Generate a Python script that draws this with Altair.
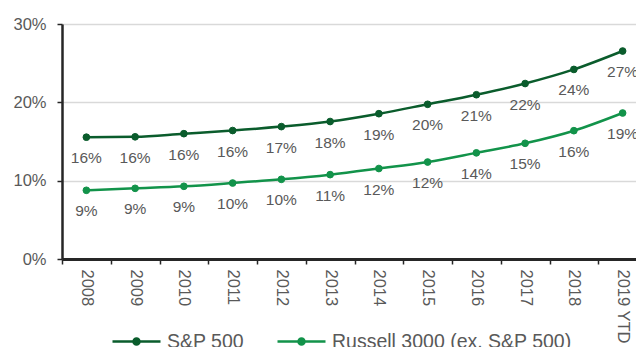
import altair as alt
import pandas as pd

years = ["2008", "2009", "2010", "2011", "2012", "2013", "2014", "2015",
         "2016", "2017", "2018", "2019 YTD"]
sp500 = [15.55, 15.6, 16.0, 16.4, 16.9, 17.55, 18.55, 19.75, 20.97, 22.4, 24.2, 26.55]
russell = [8.77, 9.02, 9.28, 9.7, 10.17, 10.77, 11.55, 12.38, 13.55, 14.77, 16.38, 18.64]
series_names = ["S&P 500", "Russell 3000 (ex. S&P 500)"]
series_colors = ["#0a5c2c", "#12934a"]

rows = []
for name, vals in zip(series_names, [sp500, russell]):
    for yr, v in zip(years, vals):
        rows.append({"year": yr, "series": name, "value": v,
                     "label": f"{int(v + 0.5)}%"})
df = pd.DataFrame(rows)

FONT = "Liberation Sans"
GRAY = "#595959"
DARK = "#262626"

x = alt.X(
    "year:N", sort=years,
    scale=alt.Scale(paddingInner=0, paddingOuter=0, range=[0, 585]),
    axis=alt.Axis(title=None, labelAngle=90, labelAlign="left", labelBaseline="middle",
                  tickBand="extent", labelFontSize=16.5, labelColor=GRAY, labelFont=FONT,
                  labelPadding=5, domainColor=DARK, domainWidth=3, tickColor=DARK,
                  tickWidth=1.5, tickSize=5, grid=False),
)
y = alt.Y(
    "value:Q",
    scale=alt.Scale(domain=[0, 30], nice=False),
    axis=alt.Axis(title=None, values=[0, 10, 20, 30], labelExpr="datum.value + '%'",
                  grid=True, gridColor="#d9d9d9", gridWidth=1.5,
                  domainColor=DARK, domainWidth=2.5, tickColor=DARK, tickWidth=1.5,
                  tickSize=5, labelFontSize=16.5, labelColor=GRAY, labelFont=FONT,
                  labelPadding=11),
)
color_scale = alt.Scale(domain=series_names, range=series_colors)

legend = alt.Legend(
    title=None, orient="none", legendX=49, legendY=292, direction="horizontal",
    symbolType="M-1,0H1M-0.125,0A0.125,0.125 0 1,0 0.125,0A0.125,0.125 0 1,0 -0.125,0Z",
    symbolSize=2304, symbolStrokeWidth=2.5, labelFontSize=19.5, labelColor=GRAY,
    labelFont=FONT, labelOffset=5, columnPadding=28, padding=0, labelLimit=400,
)

base = alt.Chart(df)
lines = base.mark_line(interpolate="monotone", strokeWidth=2.5).encode(
    x=x, y=y, stroke=alt.Stroke("series:N", scale=color_scale, legend=legend, sort=series_names)
)
points = base.mark_point(filled=True, size=45, opacity=1, strokeWidth=1).encode(
    x=x, y=y,
    fill=alt.Fill("series:N", scale=color_scale, legend=legend, sort=series_names),
    stroke=alt.Stroke("series:N", scale=color_scale, legend=legend, sort=series_names),
)
labels = base.mark_text(dy=21, fontSize=15.5, color=GRAY, font=FONT).encode(
    x=x, y=y, text="label:N"
)

chart = alt.layer(lines, points, labels).properties(
    width=574, height=235,
    autosize=alt.AutoSizeParams(type="none"),
    padding={"left": 62, "top": 24, "right": 0, "bottom": 88},
).configure_view(stroke=None)

chart.save("out.html", embed_options={"renderer": "svg", "actions": False})
